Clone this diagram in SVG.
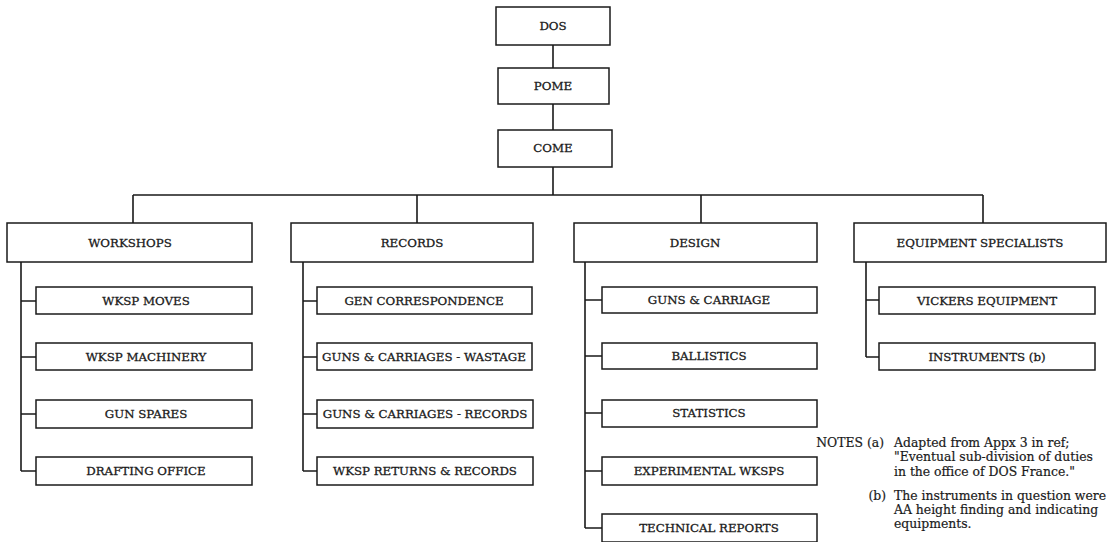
<svg xmlns="http://www.w3.org/2000/svg" width="1112" height="542" viewBox="0 0 1112 542">
<style>
.b{fill:#fff;stroke:#1a1a1a;stroke-width:1.5}
.c{fill:none;stroke:#1a1a1a;stroke-width:1.6}
.t{font-family:"DejaVu Serif","Liberation Serif",serif;font-size:11.8px;fill:#1a1a1a;stroke:#1a1a1a;stroke-width:0.3;text-anchor:middle}
.n{font-family:"DejaVu Serif","Liberation Serif",serif;font-size:12.4px;fill:#1a1a1a;stroke:#1a1a1a;stroke-width:0.2}
.e{text-anchor:end}
</style>
<rect width="1112" height="542" fill="#fff"/>
<g id="connectors">
<path class="c" d="M553,45V68M553,104V130M553,167V195M133,195H983M133,195V223M417,195V223M701,195V223M983,195V223"/>
<path class="c" d="M21,262V471M21,301H36M21,357H36M21,414H36M21,471H36"/>
<path class="c" d="M303,262V471M303,301H317M303,357H317M303,414H317M303,471H317"/>
<path class="c" d="M585,262V528M585,300H602M585,356H602M585,413H602M585,471H602M585,528H602"/>
<path class="c" d="M866,262V357M866,300H879M866,357H879"/>
</g>
<g id="dos"><rect class="b" x="496" y="7" width="114" height="38"/><text class="t" x="553" y="30">DOS</text></g>
<g id="pome"><rect class="b" x="498" y="68" width="111" height="36"/><text class="t" x="553" y="90">POME</text></g>
<g id="come"><rect class="b" x="498" y="130" width="114" height="37"/><text class="t" x="553" y="152">COME</text></g>
<g id="workshops"><rect class="b" x="7" y="223" width="245" height="39"/><text class="t" x="130" y="247">WORKSHOPS</text></g>
<g id="records"><rect class="b" x="291" y="223" width="242" height="39"/><text class="t" x="412" y="247">RECORDS</text></g>
<g id="design"><rect class="b" x="574" y="223" width="243" height="39"/><text class="t" x="695" y="247">DESIGN</text></g>
<g id="equipment"><rect class="b" x="854" y="223" width="252" height="39"/><text class="t" x="980" y="247">EQUIPMENT SPECIALISTS</text></g>
<g id="wksp-moves"><rect class="b" x="36" y="287" width="216" height="27"/><text class="t" x="146" y="305">WKSP MOVES</text></g>
<g id="wksp-machinery"><rect class="b" x="36" y="343" width="216" height="27"/><text class="t" x="146" y="361">WKSP MACHINERY</text></g>
<g id="gun-spares"><rect class="b" x="36" y="400" width="216" height="28"/><text class="t" x="146" y="418">GUN SPARES</text></g>
<g id="drafting"><rect class="b" x="36" y="457" width="216" height="28"/><text class="t" x="146" y="475">DRAFTING OFFICE</text></g>
<g id="gen-corr"><rect class="b" x="317" y="287" width="215" height="27"/><text class="t" x="424" y="305">GEN CORRESPONDENCE</text></g>
<g id="gc-wastage"><rect class="b" x="317" y="343" width="215" height="27"/><text class="t" x="424" y="361">GUNS &amp; CARRIAGES - WASTAGE</text></g>
<g id="gc-records"><rect class="b" x="317" y="400" width="216" height="28"/><text class="t" x="425" y="418">GUNS &amp; CARRIAGES - RECORDS</text></g>
<g id="wksp-returns"><rect class="b" x="317" y="457" width="216" height="28"/><text class="t" x="425" y="475">WKSP RETURNS &amp; RECORDS</text></g>
<g id="guns-carriage"><rect class="b" x="602" y="287" width="215" height="26"/><text class="t" x="709" y="304">GUNS &amp; CARRIAGE</text></g>
<g id="ballistics"><rect class="b" x="602" y="343" width="215" height="26"/><text class="t" x="709" y="360">BALLISTICS</text></g>
<g id="statistics"><rect class="b" x="602" y="400" width="215" height="27"/><text class="t" x="709" y="417">STATISTICS</text></g>
<g id="exp-wksps"><rect class="b" x="602" y="457" width="215" height="28"/><text class="t" x="709" y="475">EXPERIMENTAL WKSPS</text></g>
<g id="tech-reports"><rect class="b" x="602" y="514" width="215" height="28"/><text class="t" x="709" y="532">TECHNICAL REPORTS</text></g>
<g id="vickers"><rect class="b" x="879" y="287" width="216" height="27"/><text class="t" x="987" y="305">VICKERS EQUIPMENT</text></g>
<g id="instruments"><rect class="b" x="879" y="343" width="216" height="27"/><text class="t" x="987" y="361">INSTRUMENTS (b)</text></g>
<g id="notes">
<text class="n e" x="884" y="447">NOTES (a)</text>
<text class="n" x="894" y="447">Adapted from Appx 3 in ref;</text>
<text class="n" x="894" y="461">"Eventual sub-division of duties</text>
<text class="n" x="894" y="476">in the office of DOS France."</text>
<text class="n e" x="886" y="500">(b)</text>
<text class="n" x="894" y="500">The instruments in question were</text>
<text class="n" x="894" y="514">AA height finding and indicating</text>
<text class="n" x="894" y="528">equipments.</text>
</g>
</svg>
